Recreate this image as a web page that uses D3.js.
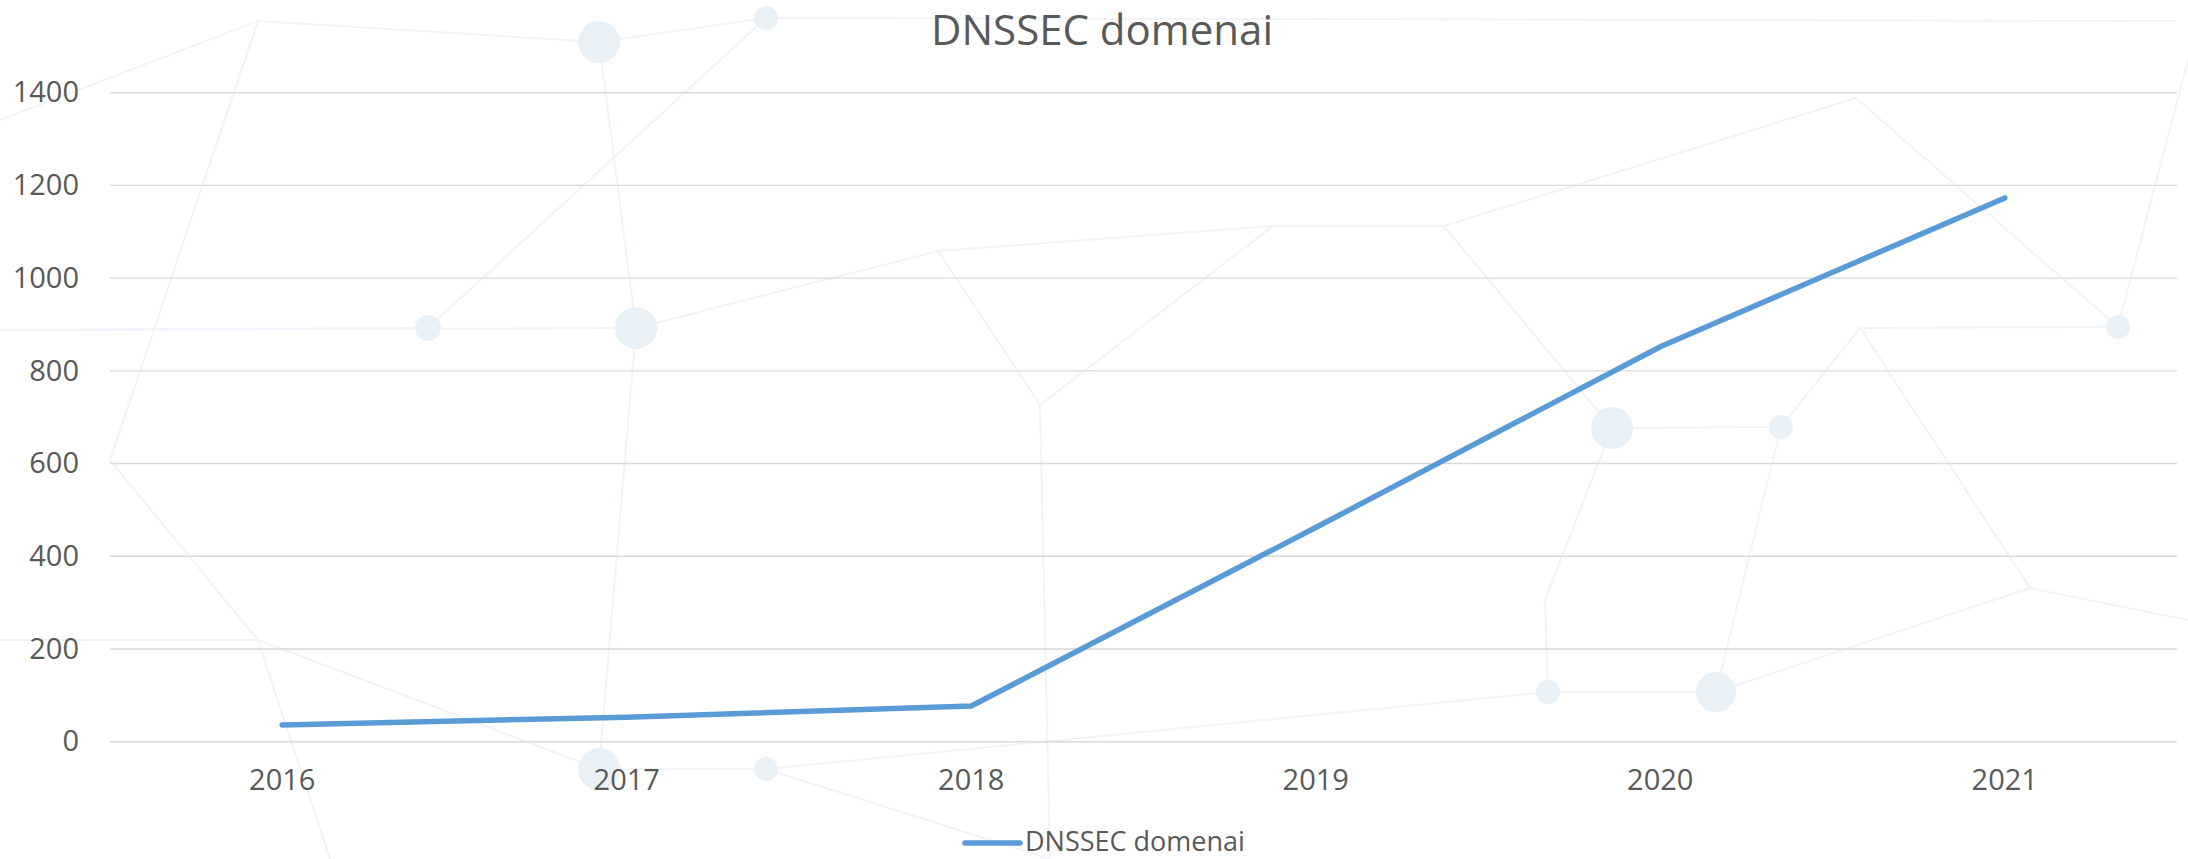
<meta charset="utf-8">
<head>
<script src="https://cdn.jsdelivr.net/npm/d3@7"></script>
<style>
  body { margin: 0; background: #fff; }
  text { font-family: "Open Sans", sans-serif; fill: #595959; }
</style>
</head>
<body>
<div id="container"></div>
<script>

var years = ["2016", "2017", "2018", "2019", "2020", "2021"];
var domains = [36, 53, 77, 462, 852, 1173];
var yTicks = [0, 200, 400, 600, 800, 1000, 1200, 1400];
var seriesName = "DNSSEC domenai";
var title = "DNSSEC domenai";

// faint network pattern in the background (decoration only)
var bgNodes = [
  [599, 42, 21], [766, 18, 12], [428, 328, 13], [636, 328, 21], [1612, 428, 21],
  [1781, 427, 12], [2118, 327, 12], [1548, 692, 12], [1716, 692, 20], [599, 769, 21],
  [766, 769, 12], [258, 21, 0], [938, 251, 0], [1040, 405, 0], [1273, 226, 0],
  [1444, 226, 0], [1856, 98, 0], [2176, 21, 0], [110, 460, 0], [0, 330, 0],
  [258, 640, 0], [1860, 328, 0], [2030, 588, 0], [1545, 600, 0], [330, 859, 0],
  [1050, 859, 0], [2188, 620, 0], [0, 640, 0], [0, 120, 0], [2188, 60, 0]
];
var bgEdges = [
  [11, 0], [0, 1], [1, 17], [11, 28], [11, 18], [19, 3], [2, 19], [2, 1], [3, 12],
  [12, 13], [13, 14], [12, 14], [14, 15], [15, 4], [4, 5], [5, 8], [7, 8], [8, 22],
  [22, 26], [6, 21], [21, 5], [6, 29], [16, 15], [16, 6], [9, 10], [10, 7], [9, 20],
  [20, 27], [20, 24], [10, 25], [13, 25], [4, 23], [23, 7], [3, 9], [0, 3], [18, 20],
  [21, 22]
];

var width = 2188, height = 859;
var margin = {top: 92.7, right: 11, bottom: 117.3, left: 110};

var svg = d3.select('#container')
  .append('svg')
  .attr('width', width)
  .attr('height', height);

var bg = svg.append('g');
bg.selectAll('line').data(bgEdges).enter().append('line')
  .attr('x1', d => bgNodes[d[0]][0]).attr('y1', d => bgNodes[d[0]][1])
  .attr('x2', d => bgNodes[d[1]][0]).attr('y2', d => bgNodes[d[1]][1])
  .attr('stroke', '#f0f4fa')
  .attr('stroke-width', 2);
bg.selectAll('circle').data(bgNodes.filter(d => d[2] > 0)).enter().append('circle')
  .attr('cx', d => d[0]).attr('cy', d => d[1]).attr('r', d => d[2])
  .attr('fill', '#e9f1f6');

var x = d3.scaleBand().domain(years).range([margin.left, width - margin.right]);
var y = d3.scaleLinear().domain([0, 1400]).range([height - margin.bottom, margin.top]);

// gridlines
svg.append('g')
  .selectAll('line').data(yTicks).enter().append('line')
  .attr('x1', margin.left).attr('x2', width - margin.right)
  .attr('y1', d => y(d)).attr('y2', d => y(d))
  .attr('stroke', '#d9d9d9')
  .attr('stroke-width', 1.4);

// y labels
var yAxis = svg.append('g')
  .attr('transform', 'translate(' + (margin.left - 31) + ',0)')
  .call(d3.axisLeft(y).tickValues(yTicks).tickFormat(d3.format('d')).tickSize(0).tickPadding(0));
yAxis.select('.domain').remove();
yAxis.selectAll('text').style('font-size', '29px').attr('fill', '#595959');

// x labels
var xAxis = svg.append('g')
  .attr('transform', 'translate(0,' + (height - margin.bottom) + ')')
  .call(d3.axisBottom(x).tickSize(0).tickPadding(28));
xAxis.select('.domain').remove();
xAxis.selectAll('text').style('font-size', '29px').attr('fill', '#595959');

// series
var line = d3.line()
  .x((d, i) => x(years[i]) + x.bandwidth() / 2)
  .y(d => y(d));

svg.append('path')
  .datum(domains)
  .attr('d', line)
  .attr('fill', 'none')
  .attr('stroke', '#5b9bd5')
  .attr('stroke-width', 5.5)
  .attr('stroke-linecap', 'round')
  .attr('stroke-linejoin', 'round');

// title
svg.append('text')
  .attr('x', 1102).attr('y', 45)
  .attr('text-anchor', 'middle')
  .style('font-size', '42px')
  .text(title);

// legend
var lg = svg.append('g').attr('transform', 'translate(965,843)');
lg.append('line')
  .attr('x1', 0).attr('x2', 55).attr('y1', 0).attr('y2', 0)
  .attr('stroke', '#5b9bd5').attr('stroke-width', 5.5)
  .attr('stroke-linecap', 'round');
lg.append('text')
  .attr('x', 60).attr('y', 8)
  .style('font-size', '27px')
  .text(seriesName);

</script>
</body>
